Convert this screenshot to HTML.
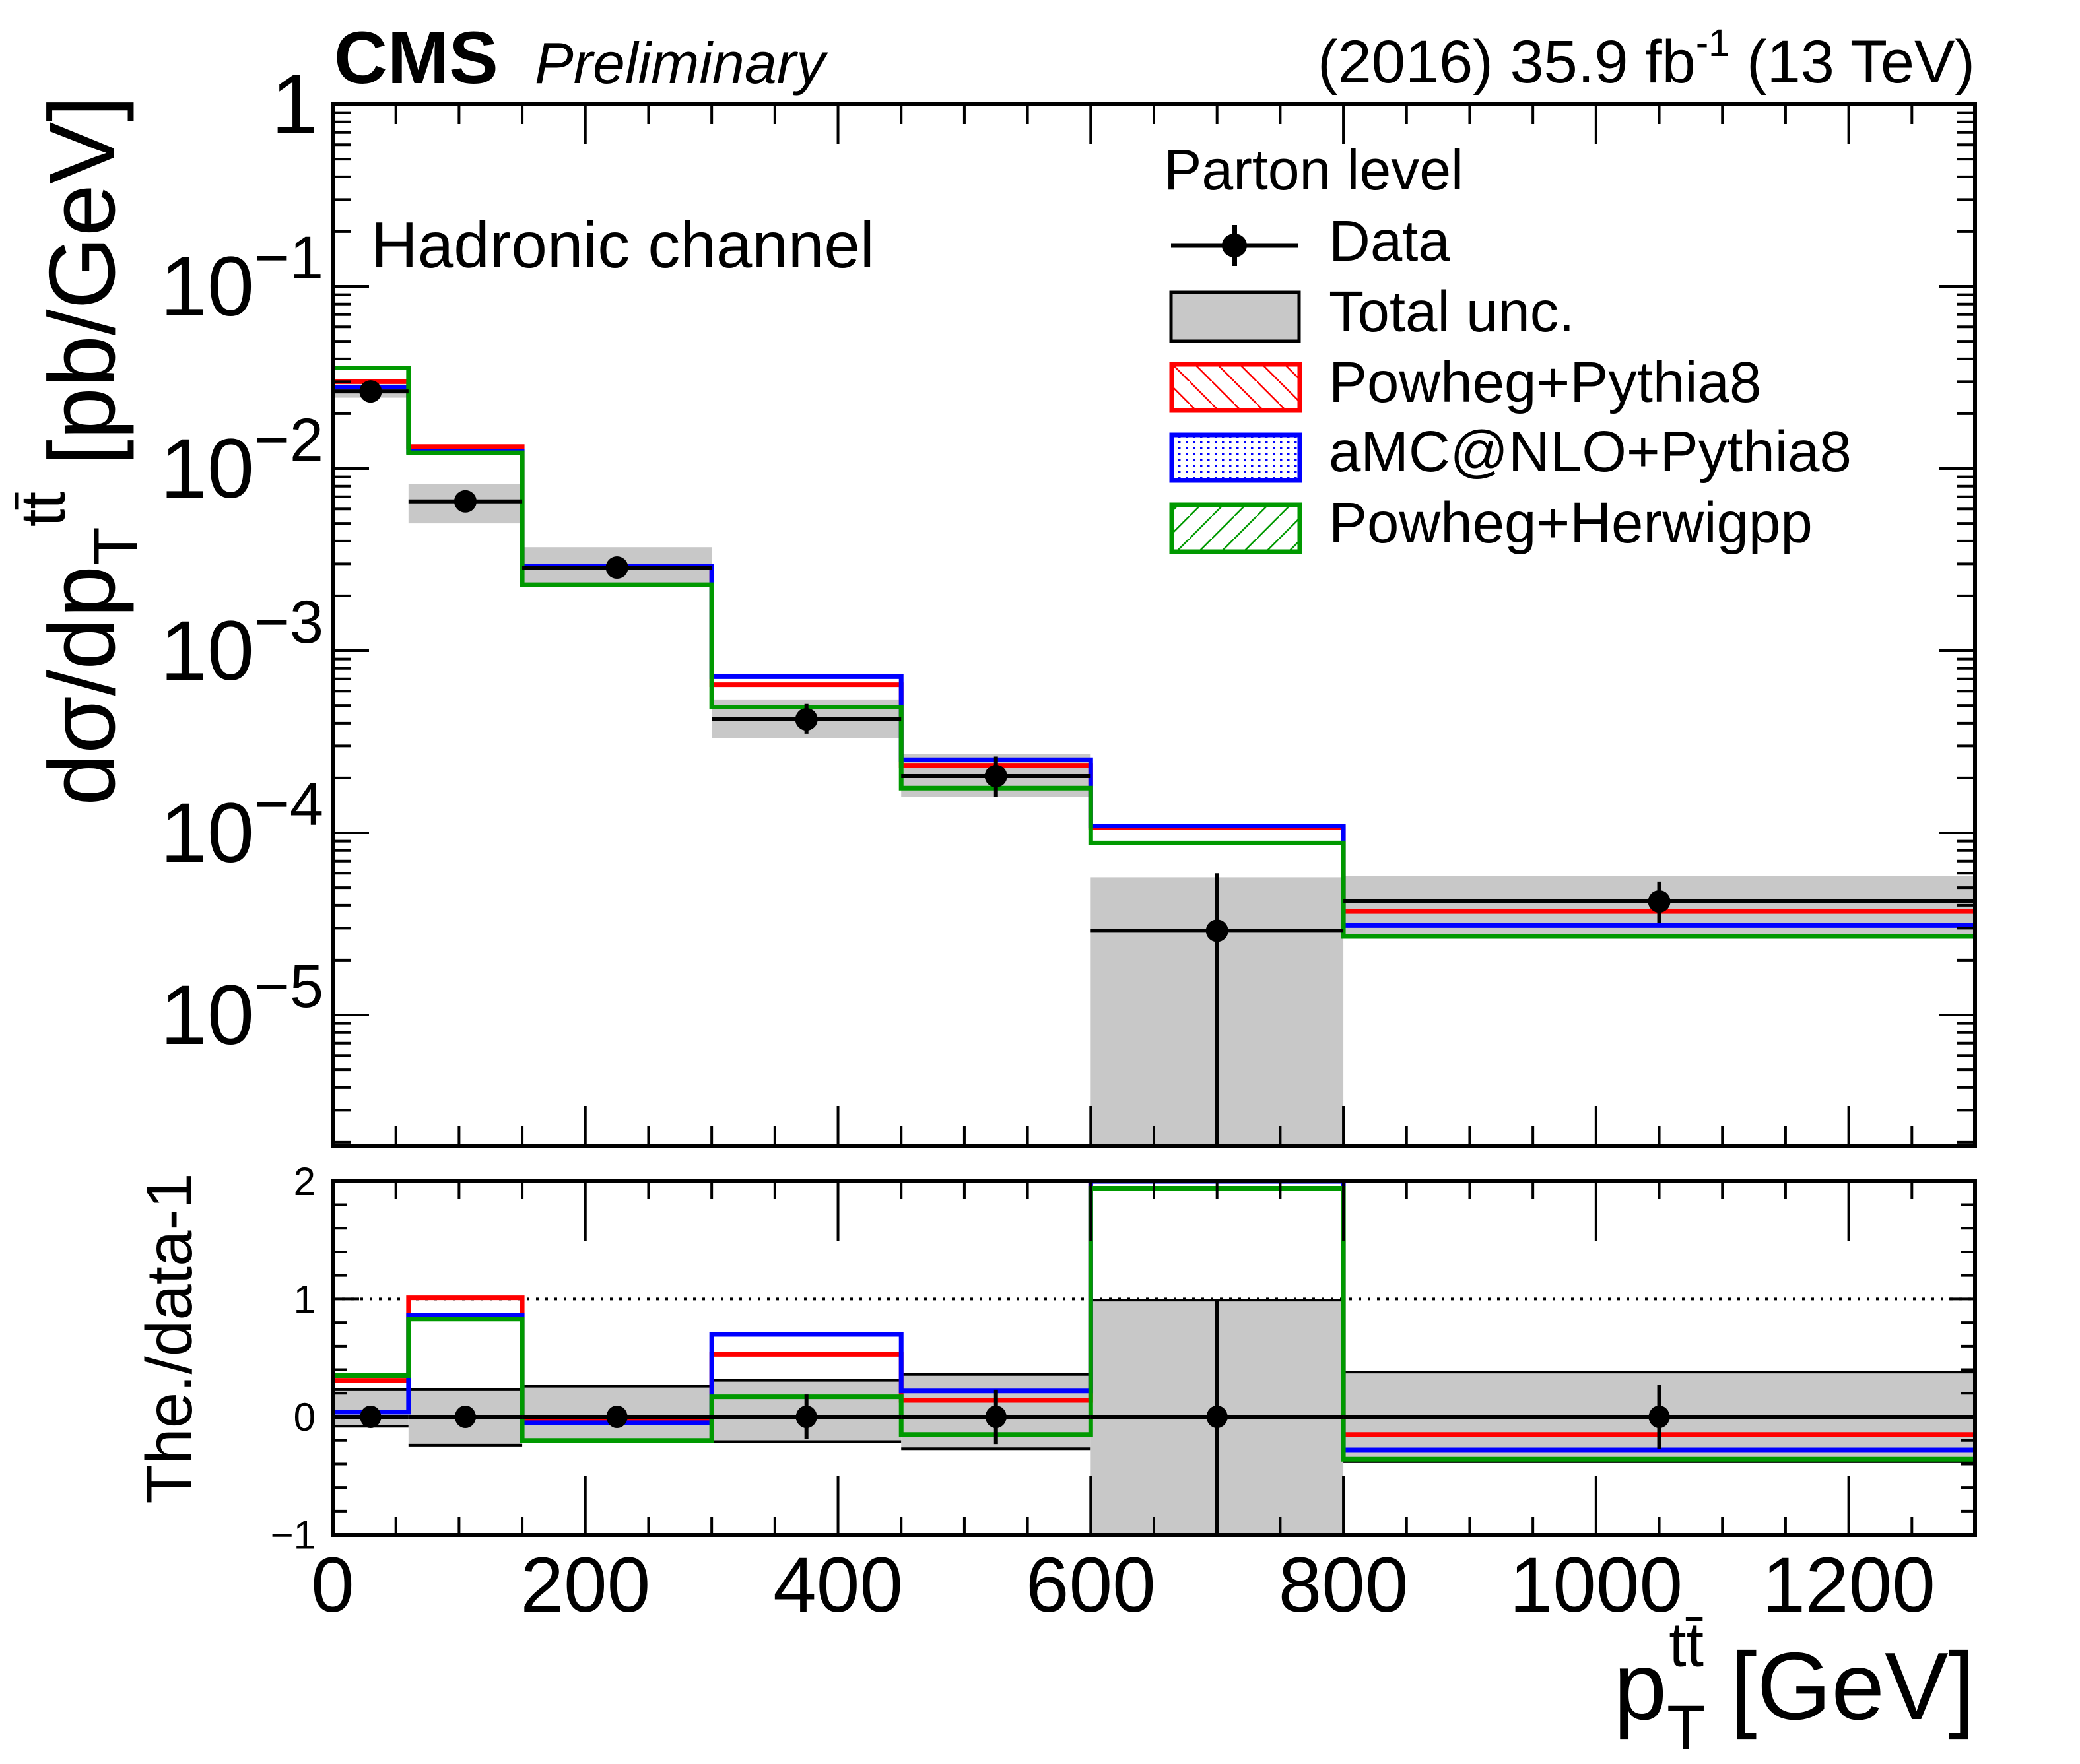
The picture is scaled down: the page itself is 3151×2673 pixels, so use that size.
<!DOCTYPE html>
<html><head><meta charset="utf-8"><style>
html,body{margin:0;padding:0;background:#fff;}
svg{display:block;font-family:"Liberation Sans",sans-serif;}
</style></head><body>
<svg id="c" width="3151" height="2673" viewBox="0 0 3151 2673" xmlns="http://www.w3.org/2000/svg">
<defs>
<pattern id="hr" patternUnits="userSpaceOnUse" width="34" height="34"><path d="M0,0 L34,34" stroke="#f00" stroke-width="2.5"/></pattern>
<pattern id="hg" patternUnits="userSpaceOnUse" width="34" height="34"><path d="M0,34 L34,0" stroke="#090" stroke-width="2.5"/></pattern>
<pattern id="db" patternUnits="userSpaceOnUse" width="11" height="9"><rect x="3" y="3" width="3.5" height="3" fill="#00f"/></pattern>
</defs>
<g id="g"></g>
</svg>
<script>
const edges=[0,60,150,300,450,600,800,1300];
const dataVal=[0.0265,0.0066,0.00286,0.00042,0.000205,0.000029,0.000042];
const dataErrUp=[0.0285,0.0072,0.0031,0.00051,0.000262,0.00006,0.000054];
const dataErrDn=[0.0245,0.0060,0.0026,0.00035,0.000158,0.000001,0.000032];
const uncHi=[0.029,0.0082,0.0037,0.00054,0.00027,0.000057,0.000058];
const uncLo=[0.0245,0.0050,0.0023,0.00033,0.000158,0.000001,0.000027];
const powPy=[0.030,0.0132,0.0029,0.00065,0.000235,0.000107,0.000037];
const amcPy=[0.028,0.0124,0.0029,0.00072,0.000252,0.000109,0.000031];
const powHw=[0.0357,0.0122,0.0023,0.00049,0.000176,0.000088,0.000027];
const rPowPy=[0.31,1.01,-0.03,0.53,0.14,2.7,-0.15];
const rAmcPy=[0.04,0.86,-0.05,0.70,0.22,2.7,-0.28];
const rPowHw=[0.35,0.83,-0.20,0.17,-0.15,1.94,-0.36];
const rUncHi=[0.23,0.23,0.26,0.31,0.36,0.99,0.38];
const rUncLo=[-0.08,-0.24,-0.21,-0.21,-0.27,-1.2,-0.38];
const rErr=[0.05,0.05,0.05,0.19,0.23,1.0,0.27];
const xTicks=[0,200,400,600,800,1000,1200];
const yExp=[0,-1,-2,-3,-4,-5];
const rTicks=[2,1,0,-1];

const L=504,R=2992,T=158,B=1736,T2=1790,B2=2326;
const X=v=>L+(v/1300)*(R-L);
const Y=v=>T+(-Math.log10(v))*276;
const Yc=v=>Math.min(B,Math.max(T,Y(v)));
const Y2=v=>2147-v*178.6;
const Y2c=v=>Math.min(B2,Math.max(T2,Y2(v)));
const g=document.getElementById('g');
const NS='http://www.w3.org/2000/svg';
function el(t,a,p){const e=document.createElementNS(NS,t);for(const k in a)e.setAttribute(k,a[k]);(p||g).appendChild(e);return e;}

for(let i=0;i<7;i++){
 const x0=X(edges[i]),x1=X(edges[i+1]);
 const r=el('rect',{x:x0,y:Yc(uncHi[i]),width:x1-x0,height:Yc(uncLo[i])-Yc(uncHi[i]),fill:'#c8c8c8'});
 
 
 const r2=el('rect',{x:x0,y:Y2c(rUncHi[i]),width:x1-x0,height:Y2c(rUncLo[i])-Y2c(rUncHi[i]),fill:'#c8c8c8'});
 
 
 el('line',{x1:x0,x2:x1,y1:Y2c(rUncHi[i]),y2:Y2c(rUncHi[i]),stroke:'#000','stroke-width':4});
 el('line',{x1:x0,x2:x1,y1:Y2c(rUncLo[i]),y2:Y2c(rUncLo[i]),stroke:'#000','stroke-width':4});
}
const dl=el('line',{x1:L,x2:R,y1:Y2(1),y2:Y2(1),stroke:'#000','stroke-width':4,'stroke-dasharray':'4 10'});



function step(vals,fy,col,name){
 let d='';
 for(let i=0;i<7;i++){const x0=X(edges[i]),x1=X(edges[i+1]),y=fy(vals[i]);d+=(i?'L':'M')+x0+','+y+'L'+x1+','+y;}
 const p=el('path',{d:d,fill:'none',stroke:col,'stroke-width':7});
 
 
}
step(powPy,Yc,'#f00','powheg-pythia8-line');
step(amcPy,Yc,'#00f','amcatnlo-pythia8-line');
step(powHw,Yc,'#090','powheg-herwigpp-line');
step(rPowPy,Y2c,'#f00','ratio-powheg-pythia8');
step(rAmcPy,Y2c,'#00f','ratio-amcatnlo-pythia8');
step(rPowHw,Y2c,'#090','ratio-powheg-herwigpp');

for(let i=0;i<7;i++){
 const x0=X(edges[i]),x1=X(edges[i+1]),xc=X((edges[i]+edges[i+1])/2),y=Y(dataVal[i]);
 el('line',{x1:x0,x2:x1,y1:y,y2:y,stroke:'#000','stroke-width':6});
 el('line',{x1:xc,x2:xc,y1:Yc(dataErrUp[i]),y2:Yc(dataErrDn[i]),stroke:'#000','stroke-width':6});
 const c=el('circle',{cx:xc,cy:y,r:17,fill:'#000'});
 
 
 el('line',{x1:x0,x2:x1,y1:Y2(0),y2:Y2(0),stroke:'#000','stroke-width':6});
 el('line',{x1:xc,x2:xc,y1:Y2c(rErr[i]),y2:Y2c(-rErr[i]),stroke:'#000','stroke-width':6});
 const c2=el('ellipse',{cx:xc,cy:Y2(0),rx:16,ry:17,fill:'#000'});
 
 
}

const f1=el('rect',{x:L,y:T,width:R-L,height:B-T,fill:'none',stroke:'#000','stroke-width':6});


const f2=el('rect',{x:L,y:T2,width:R-L,height:B2-T2,fill:'none',stroke:'#000','stroke-width':6});



for(let v=0;v<=1300;v+=50){
 const x=X(v),maj=v%200===0;
 const l1=maj?60:30,l2=maj?36:18;
 el('line',{x1:x,x2:x,y1:B,y2:B-l1,stroke:'#000','stroke-width':4});
 el('line',{x1:x,x2:x,y1:T,y2:T+l1,stroke:'#000','stroke-width':4});
 el('line',{x1:x,x2:x,y1:B2,y2:B2-l2*(maj?2.5:1.5),stroke:'#000','stroke-width':4});
 el('line',{x1:x,x2:x,y1:T2,y2:T2+l2*(maj?2.5:1.5),stroke:'#000','stroke-width':4});
}
xTicks.forEach(v=>{const t=el('text',{x:X(v),y:2442,'font-size':118,'text-anchor':'middle'});t.textContent=v;
 
 });
for(let e=0;e>=-6;e--){
 for(let m=1;m<10;m++){
  const val=m*Math.pow(10,e-1);
  const y=Y(val); if(y<T||y>B)continue;
  const len=m===1?55:28;
  el('line',{x1:L,x2:L+len,y1:y,y2:y,stroke:'#000','stroke-width':4});
  el('line',{x1:R,x2:R-len,y1:y,y2:y,stroke:'#000','stroke-width':4});
 }
}
yExp.forEach(e=>{
 const y=Y(Math.pow(10,e))+44;
 const t=el('text',{x:e===0?482:490,y:y,'font-size':128,'text-anchor':'end'});
 
 
 if(e===0){t.textContent='1';}else{
  t.textContent='10';
  const s=el('tspan',{dy:-56,'font-size':92},t);s.textContent='\u2212'+(-e);
 }
});
for(let v=-1;v<=2.001;v+=0.2){
 const y=Y2(v),maj=Math.abs(v-Math.round(v))<0.01,len=maj?40:22;
 el('line',{x1:L,x2:L+len,y1:y,y2:y,stroke:'#000','stroke-width':4});
 el('line',{x1:R,x2:R-len,y1:y,y2:y,stroke:'#000','stroke-width':4});
}
rTicks.forEach(v=>{const t=el('text',{x:478,y:Y2(v)+21,'font-size':60,'text-anchor':'end'});t.textContent=v<0?'\u2212'+(-v):v;
 
 });
</script>
<svg x="0" y="0" width="3151" height="2673" style="position:absolute;left:0;top:0" xmlns="http://www.w3.org/2000/svg">
<text x="506" y="126" font-size="112" font-weight="bold">CMS</text>
<text x="810" y="126" font-size="88" font-style="italic">Preliminary</text>
<text x="2992" y="125" font-size="92" text-anchor="end">(2016) 35.9 fb<tspan dy="-40" font-size="58">-1</tspan><tspan dy="40"> (13 TeV)</tspan></text>
<text x="562" y="405" font-size="98">Hadronic channel</text>
<text transform="translate(173,145) rotate(-90)" font-size="142" text-anchor="end">dσ/dp<tspan dy="35" font-size="96">T</tspan><tspan dy="-110" font-size="96">tt̄</tspan><tspan dy="75"> [pb/GeV]</tspan></text>
<text transform="translate(290,2028) rotate(-90)" font-size="98" text-anchor="middle">The./data-1</text>
<text x="2992" y="2605" font-size="145" text-anchor="end">p<tspan dy="45" font-size="95">T</tspan><tspan dy="-125" dx="-55" font-size="95">tt̄</tspan><tspan dy="80"> [GeV]</tspan></text>
<g>
<text x="1763" y="287" font-size="86">Parton level</text>
<g>
<line x1="1774" x2="1967" y1="372" y2="372" stroke="#000" stroke-width="7"/><line x1="1870" x2="1870" y1="341" y2="403" stroke="#000" stroke-width="8"/><ellipse cx="1870" cy="372" rx="19" ry="18"/>
<text x="2013" y="395" font-size="87">Data</text></g>
<g>
<rect x="1774" y="443" width="194" height="74" fill="#c8c8c8" stroke="#000" stroke-width="5"/>
<text x="2013" y="502" font-size="87">Total unc.</text></g>
<g>
<rect x="1775" y="552" width="194" height="70" fill="url(#hr)" stroke="#f00" stroke-width="7"/>
<text x="2013" y="609" font-size="87">Powheg+Pythia8</text></g>
<g>
<rect x="1775" y="659" width="194" height="69" fill="url(#db)" stroke="#00f" stroke-width="7"/>
<text x="2013" y="714" font-size="87">aMC@NLO+Pythia8</text></g>
<g>
<rect x="1775" y="765" width="194" height="71" fill="url(#hg)" stroke="#090" stroke-width="7"/>
<text x="2013" y="822" font-size="87">Powheg+Herwigpp</text></g>
</g>
</svg>
</body></html>
